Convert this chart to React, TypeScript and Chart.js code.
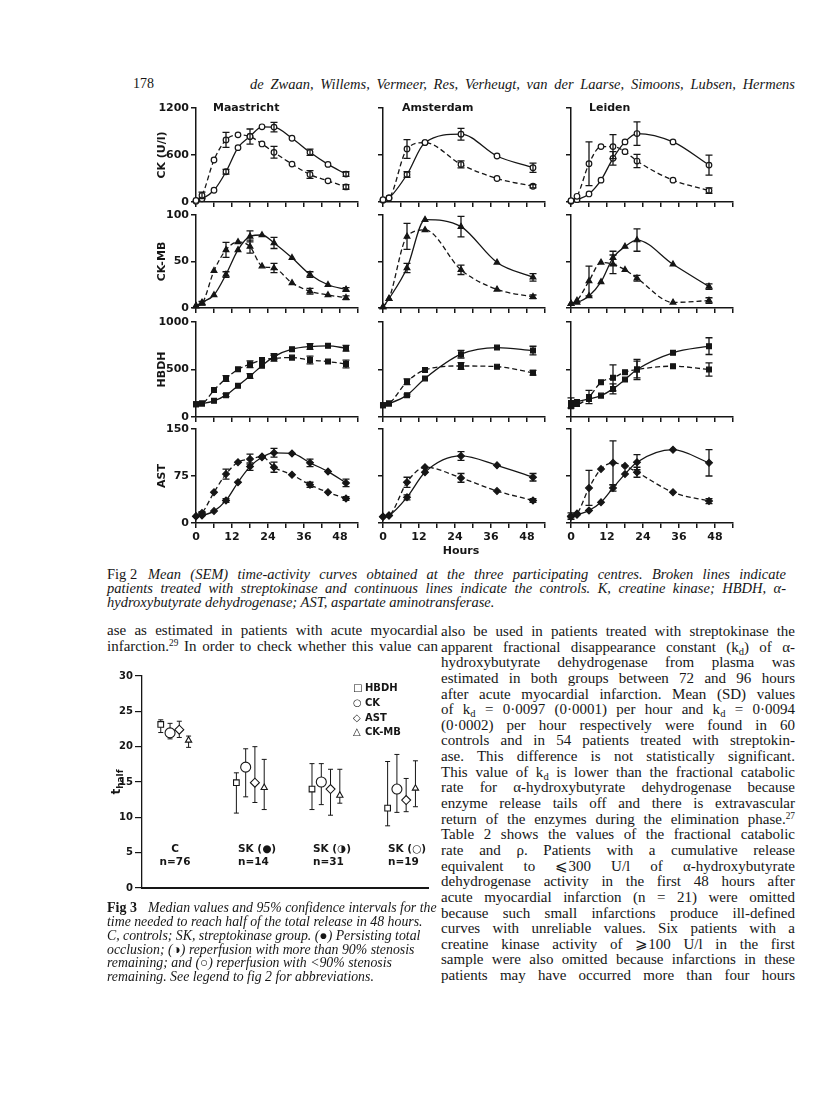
import React, { useEffect, useRef } from 'react';
import { Chart, registerables } from 'chart.js';

Chart.register(...registerables);

// ================= Fig 2 data =================
const HOURS_MAAS = [0, 2, 6, 10, 14, 18, 22, 26, 32, 38, 44, 50];
const HOURS_AMS = [0, 2, 8, 14, 26, 38, 50];
const HOURS_LEI = [0, 2, 6, 10, 14, 18, 22, 34, 46];
const X_TICK_MARKS = [0, 6, 12, 18, 24, 30, 36, 42, 48, 54];
const X_TICK_LABELS = [0, 12, 24, 36, 48];
const CK_TICKS = [0, 600, 1200];
const CKMB_TICKS = [0, 50, 100];
const HBDH_TICKS = [0, 500, 1000];
const AST_TICKS = [0, 75, 150];
const CENTRES = ['Maastricht', 'Amsterdam', 'Leiden'];
const ENZYME_TITLES = ['CK (U/l)', 'CK-MB', 'HBDH', 'AST'];

// Maastricht (SK = streptokinase, dashed; CTL = controls, solid)
const MAAS_CK_SK = [20, 85, 536, 793, 857, 836, 741, 634, 484, 351, 270, 193];
const MAAS_CK_SK_ERR = [0, 40, 0, 95, 0, 0, 0, 75, 0, 50, 0, 30];
const MAAS_CK_CTL = [10, 40, 150, 386, 694, 836, 960, 956, 814, 634, 480, 356];
const MAAS_CK_CTL_ERR = [0, 0, 0, 30, 0, 96, 0, 60, 0, 40, 0, 30];
const MAAS_CKMB_SK = [2.5, 5, 40, 62.5, 71, 66, 45, 43, 27, 18, 14, 11];
const MAAS_CKMB_SK_ERR = [0, 2, 0, 8, 0, 7, 0, 5, 0, 3, 0, 2];
const MAAS_CKMB_CTL = [2, 6, 14, 36, 62.5, 77, 78.5, 70, 54, 36, 25, 20];
const MAAS_CKMB_CTL_ERR = [0, 0, 0, 3, 0, 6, 0, 6, 0, 3, 0, 2];
const MAAS_HBDH_SK = [134, 141, 283, 406, 502, 555, 600, 618, 625, 600, 583, 558];
const MAAS_HBDH_SK_ERR = [0, 0, 0, 30, 0, 35, 0, 30, 0, 40, 0, 40];
const MAAS_HBDH_CTL = [134, 141, 170, 230, 329, 431, 540, 636, 714, 742, 749, 724];
const MAAS_HBDH_CTL_ERR = [0, 0, 0, 15, 0, 25, 0, 30, 0, 30, 0, 30];
const MAAS_AST_SK = [10.6, 16, 49, 78, 97, 102, 106, 89, 77, 61, 49, 39];
const MAAS_AST_SK_ERR = [0, 2, 0, 8, 0, 8, 0, 8, 0, 4, 0, 3];
const MAAS_AST_CTL = [10.6, 12, 19, 36, 65, 90, 105, 112, 111, 96, 82, 64];
const MAAS_AST_CTL_ERR = [0, 0, 0, 3, 0, 6, 0, 7, 0, 6, 0, 6];

// Amsterdam
const AMS_CK_SK = [30, 51, 677, 759, 480, 300, 201];
const AMS_CK_SK_ERR = [0, 0, 120, 0, 45, 0, 20];
const AMS_CK_CTL = [21, 51, 351, 759, 866, 587, 437];
const AMS_CK_CTL_ERR = [0, 0, 35, 0, 75, 0, 60];
const AMS_CKMB_SK = [1, 10, 77, 84, 41, 20, 12];
const AMS_CKMB_SK_ERR = [0, 0, 14, 0, 5, 0, 2];
const AMS_CKMB_CTL = [1, 10, 43, 95, 87.5, 49, 33];
const AMS_CKMB_CTL_ERR = [0, 0, 5, 0, 11, 0, 4];
const AMS_HBDH_SK = [124, 141, 371, 495, 537, 530, 466];
const AMS_HBDH_SK_ERR = [0, 0, 30, 0, 35, 0, 25];
const AMS_HBDH_CTL = [124, 141, 230, 406, 661, 731, 700];
const AMS_HBDH_CTL_ERR = [0, 0, 10, 0, 40, 0, 45];
const AMS_AST_SK = [10, 12, 65, 89, 72, 51, 36];
const AMS_AST_SK_ERR = [0, 0, 8, 0, 7, 0, 3];
const AMS_AST_CTL = [10, 12, 41, 81, 107, 92, 73];
const AMS_AST_CTL_ERR = [0, 0, 4, 0, 7, 0, 6];

// Leiden
const LEI_CK_SK = [17, 73, 489, 707, 707, 643, 523, 279, 146];
const LEI_CK_SK_ERR = [0, 0, 279, 0, 154, 0, 85, 0, 34];
const LEI_CK_CTL = [9, 30, 103, 279, 557, 767, 874, 767, 471];
const LEI_CK_CTL_ERR = [0, 0, 0, 0, 85, 0, 150, 0, 128];
const LEI_CKMB_SK = [4.6, 8, 29, 49, 47, 41, 32, 6, 8];
const LEI_CKMB_SK_ERR = [0, 0, 16, 0, 10, 0, 3, 0, 3];
const LEI_CKMB_CTL = [4.6, 6, 13, 28, 54, 66, 73, 47, 23];
const LEI_CKMB_CTL_ERR = [0, 0, 0, 0, 7, 0, 12, 0, 3];
const LEI_HBDH_SK = [148, 137, 211, 366, 412, 472, 500, 535, 500];
const LEI_HBDH_SK_ERR = [53, 0, 70, 0, 137, 0, 88, 0, 70];
const LEI_HBDH_CTL = [113, 158, 190, 225, 296, 394, 500, 676, 746];
const LEI_HBDH_CTL_ERR = [0, 0, 0, 0, 53, 0, 106, 0, 88];
const LEI_AST_SK = [11, 15, 56, 86, 96, 91, 81, 49, 35];
const LEI_AST_SK_ERR = [5, 0, 28, 0, 35, 0, 8, 0, 4];
const LEI_AST_CTL = [10, 13, 20, 33, 56, 78, 97, 117, 96];
const LEI_AST_CTL_ERR = [0, 0, 0, 0, 5, 0, 12, 0, 21];

// ================= Fig 3 data =================
const FIG3_GROUPS = ['C', 'SK (●)', 'SK (◑)', 'SK (○)'];
const FIG3_N = ['n=76', 'n=14', 'n=31', 'n=19'];
const FIG3_Y_TICKS = [0, 5, 10, 15, 20, 25, 30];
const FIG3_SERIES = ['HBDH', 'CK', 'AST', 'CK-MB'];
const T_HBDH = [23.15, 14.9, 14.0, 11.3];
const T_HBDH_LO = [22.0, 10.6, 11.1, 8.8];
const T_HBDH_HI = [23.8, 16.3, 17.6, 17.9];
const T_CK = [21.95, 17.1, 15.0, 14.0];
const T_CK_LO = [21.1, 12.9, 11.8, 10.7];
const T_CK_HI = [23.3, 19.7, 17.6, 18.9];
const T_AST = [22.4, 14.9, 14.0, 12.45];
const T_AST_LO = [21.3, 12.1, 10.3, 10.8];
const T_AST_HI = [23.6, 20.0, 16.8, 15.5];
const T_CKMB = [20.9, 14.2, 13.1, 14.1];
const T_CKMB_LO = [19.9, 11.1, 12.0, 11.5];
const T_CKMB_HI = [21.5, 18.2, 16.8, 18.0];

// ================= page text =================
const PAGE_NO = '178';
const AUTHORS = 'de Zwaan, Willems, Vermeer, Res, Verheugt, van der Laarse, Simoons, Lubsen, Hermens';
const FIG2_CAPTION = [
  'Mean (SEM) time-activity curves obtained at the three participating centres. Broken lines indicate',
  'patients treated with streptokinase and continuous lines indicate the controls. K, creatine kinase; HBDH, α-',
  'hydroxybutyrate dehydrogenase; AST, aspartate aminotransferase.',
];
const LEFT_COL = [
  'ase as estimated in patients with acute myocardial',
  'infarction.<sup>29</sup> In order to check whether this value can',
];
const FIG3_CAPTION = [
  'Median values and 95% confidence intervals for the',
  'time needed to reach half of the total release in 48 hours.',
  'C, controls; SK, streptokinase group. (●) Persisting total',
  'occlusion; (◑) reperfusion with more than 90% stenosis',
  'remaining; and (○) reperfusion with &lt;90% stenosis',
  'remaining. See legend to fig 2 for abbreviations.',
];
const RIGHT_COL = [
  'also be used in patients treated with streptokinase the',
  'apparent fractional disappearance constant (k<sub>d</sub>) of α-',
  'hydroxybutyrate dehydrogenase from plasma was',
  'estimated in both groups between 72 and 96 hours',
  'after acute myocardial infarction. Mean (SD) values',
  'of k<sub>d</sub> = 0·0097 (0·0001) per hour and k<sub>d</sub> = 0·0094',
  '(0·0002) per hour respectively were found in 60',
  'controls and in 54 patients treated with streptokin-',
  'ase. This difference is not statistically significant.',
  'This value of k<sub>d</sub> is lower than the fractional catabolic',
  'rate for α-hydroxybutyrate dehydrogenase because',
  'enzyme release tails off and there is extravascular',
  'return of the enzymes during the elimination phase.<sup>27</sup>',
  'Table 2 shows the values of the fractional catabolic',
  'rate and ρ. Patients with a cumulative release',
  'equivalent to ⩽300 U/l of α-hydroxybutyrate',
  'dehydrogenase activity in the first 48 hours after',
  'acute myocardial infarction (n = 21) were omitted',
  'because such small infarctions produce ill-defined',
  'curves with unreliable values. Six patients with a',
  'creatine kinase activity of ⩾100 U/l in the first',
  'sample were also omitted because infarctions in these',
  'patients may have occurred more than four hours',
];

// ================= styling / layout constants =================
const INK = '#161616';
const SANS = '"DejaVu Sans", sans-serif';
const SERIF = '"Liberation Serif", "Times New Roman", serif';
const BODY_SIZE = 15;
const CAPTION_SIZE = 14.5;
const COL_AXIS_X = [196, 383, 571];
const ROW_TOP = [108, 215, 322, 429];
const ROW_BOTTOM = [202, 308, 417, 523];
const PLOT_W = 162;
const Y_BOX = 46;
const PAD_TOP = 10;
const PAD_RIGHT = 8;
const X_BOX = 28;
const FIG3_SERIES_OFFSET = [-0.184, -0.061, 0.061, 0.184];

const CSS = `
.t sub{font-size:0.7em;line-height:0;vertical-align:-0.28em}
.t sup{font-size:0.62em;line-height:0;vertical-align:0.5em}
`;

// ================= error bar plugin =================
function drawErrorBars(chart: any, opts: any) {
  const ctx = chart.ctx;
  const yScale = chart.scales.y;
  chart.data.datasets.forEach((ds: any, i: number) => {
    const meta = chart.getDatasetMeta(i);
    ctx.save();
    ctx.strokeStyle = opts.color || INK;
    ctx.lineWidth = opts.lineWidth || 1.2;
    ctx.setLineDash([]);
    ctx.beginPath();
    meta.data.forEach((el: any, j: number) => {
      let lo: number, hi: number;
      if (ds.errLow && ds.errHigh) {
        lo = ds.errLow[j];
        hi = ds.errHigh[j];
      } else if (ds.errors && ds.errors[j]) {
        const v = ds.data[j].y;
        lo = v - ds.errors[j];
        hi = v + ds.errors[j];
      } else return;
      const x = el.x;
      const y1 = yScale.getPixelForValue(hi);
      const y2 = yScale.getPixelForValue(lo);
      const c = opts.cap ?? 3;
      ctx.moveTo(x, y1); ctx.lineTo(x, y2);
      ctx.moveTo(x - c, y1); ctx.lineTo(x + c, y1);
      ctx.moveTo(x - c, y2); ctx.lineTo(x + c, y2);
    });
    ctx.stroke();
    ctx.restore();
  });
}

const errorBarPlugin = {
  id: 'errorBars',
  beforeDatasetsDraw(chart: any, _a: any, opts: any) {
    if (opts && opts.behind) drawErrorBars(chart, opts);
  },
  afterDatasetsDraw(chart: any, _a: any, opts: any) {
    if (!opts || !opts.behind) drawErrorBars(chart, opts || {});
  },
};

// ================= chart configs =================
type PanelSpec = {
  hours: number[];
  sk: number[];
  skErr: number[];
  ctl: number[];
  ctlErr: number[];
  yTicks: number[];
  yTitle: string;
  marker: string;
  radius: number;
  open: boolean;
  showY: boolean;
  showX: boolean;
};

function fig2Config(p: PanelSpec) {
  const font = { family: SANS, size: 11, weight: 'bold' };
  const mk = (vals: number[], errs: number[], dashed: boolean) => ({
    data: p.hours.map((h, i) => ({ x: h, y: vals[i] })),
    errors: errs,
    borderColor: INK,
    borderWidth: 1.3,
    borderDash: dashed ? [5, 3] : [],
    pointStyle: p.marker,
    pointRadius: p.radius,
    pointBackgroundColor: p.open ? '#fff' : INK,
    pointBorderColor: INK,
    pointBorderWidth: 1.2,
    cubicInterpolationMode: 'monotone',
    fill: false,
    clip: false,
  });
  const grid = { drawOnChartArea: false, drawTicks: true, tickLength: 5, color: INK, lineWidth: 1.5 };
  const border = { display: true, color: INK, width: 1.5 };
  return {
    type: 'line',
    data: { datasets: [mk(p.sk, p.skErr, true), mk(p.ctl, p.ctlErr, false)] },
    options: {
      responsive: false,
      animation: false,
      devicePixelRatio: 1,
      events: [],
      layout: { padding: { top: PAD_TOP, right: PAD_RIGHT, left: 0, bottom: 0 } },
      plugins: {
        legend: { display: false },
        tooltip: { enabled: false },
        errorBars: { cap: 3.5, lineWidth: 1.3 },
      },
      scales: {
        x: {
          type: 'linear',
          min: X_TICK_MARKS[0],
          max: X_TICK_MARKS[X_TICK_MARKS.length - 1],
          afterBuildTicks: (s: any) => { s.ticks = X_TICK_MARKS.map((v) => ({ value: v })); },
          ticks: {
            autoSkip: false,
            maxRotation: 0,
            font,
            color: INK,
            padding: 3,
            callback: (v: any) => (p.showX && X_TICK_LABELS.includes(Number(v)) ? String(v) : ''),
          },
          grid,
          border,
          afterFit: (s: any) => { s.height = X_BOX; },
        },
        y: {
          type: 'linear',
          min: p.yTicks[0],
          max: p.yTicks[p.yTicks.length - 1],
          afterBuildTicks: (s: any) => { s.ticks = p.yTicks.map((v) => ({ value: v })); },
          ticks: { display: p.showY, font, color: INK, padding: 2, callback: (v: any) => String(v) },
          grid,
          border,
          title: { display: p.showY, text: p.yTitle, font, color: INK, padding: { top: 6, bottom: 0 } },
          afterFit: (s: any) => { s.width = Y_BOX; },
        },
      },
    },
    plugins: [errorBarPlugin],
  };
}

function fig3Config() {
  const meds = [T_HBDH, T_CK, T_AST, T_CKMB];
  const los = [T_HBDH_LO, T_CK_LO, T_AST_LO, T_CKMB_LO];
  const his = [T_HBDH_HI, T_CK_HI, T_AST_HI, T_CKMB_HI];
  const styles = ['rect', 'circle', 'rectRot', 'triangle'];
  const radii = [4, 5, 4.5, 3.6];
  const tickFont = { family: SANS, size: 10, weight: 'bold' };
  return {
    type: 'scatter',
    data: {
      datasets: FIG3_SERIES.map((name, k) => ({
        label: name,
        data: meds[k].map((v, g) => ({ x: g + 1 + FIG3_SERIES_OFFSET[k], y: v })),
        errLow: los[k],
        errHigh: his[k],
        showLine: false,
        pointStyle: styles[k],
        pointRadius: radii[k],
        pointBackgroundColor: '#fff',
        pointBorderColor: INK,
        pointBorderWidth: 1.1,
        clip: false,
      })),
    },
    options: {
      responsive: false,
      animation: false,
      devicePixelRatio: 1,
      events: [],
      layout: { padding: { top: 11, right: 12, left: 0, bottom: 0 } },
      plugins: {
        legend: { display: false },
        tooltip: { enabled: false },
        errorBars: { behind: true, cap: 2.5, lineWidth: 1 },
      },
      scales: {
        x: {
          type: 'linear',
          min: 0.568,
          max: 4.35,
          ticks: { display: false },
          grid: { display: false },
          border: { display: true, color: INK, width: 2 },
          afterFit: (s: any) => { s.height = 12; },
        },
        y: {
          type: 'linear',
          min: FIG3_Y_TICKS[0],
          max: FIG3_Y_TICKS[FIG3_Y_TICKS.length - 1],
          afterBuildTicks: (s: any) => { s.ticks = FIG3_Y_TICKS.map((v) => ({ value: v })); },
          ticks: { font: tickFont, color: INK, padding: 2, callback: (v: any) => String(v) },
          grid: { drawOnChartArea: false, drawTicks: true, tickLength: 7, color: INK, lineWidth: 1.2 },
          border: { display: true, color: INK, width: 1.3 },
          afterFit: (s: any) => { s.width = 42; },
        },
      },
    },
    plugins: [errorBarPlugin],
  };
}

// ================= components =================
function ChartBox(props: { left: number; top: number; width: number; height: number; make: () => any }) {
  const { left, top, width, height, make } = props;
  const ref = useRef<HTMLCanvasElement | null>(null);
  useEffect(() => {
    if (!ref.current) return;
    const chart = new Chart(ref.current, make() as any);
    return () => chart.destroy();
  }, []);
  return (
    <canvas
      ref={ref}
      width={width}
      height={height}
      style={{ position: 'absolute', left, top, width, height, display: 'block' }}
    />
  );
}

type TxtProps = {
  x: number;
  top: number;
  w?: number;
  size: number;
  lh: number;
  family?: string;
  italic?: boolean;
  bold?: boolean;
  justify?: boolean;
  center?: boolean;
  html: string;
};

function Txt(p: TxtProps) {
  const style: any = {
    position: 'absolute',
    left: p.center ? p.x - 150 : p.x,
    top: p.top,
    fontFamily: p.family || SERIF,
    fontSize: p.size,
    lineHeight: p.lh + 'px',
    fontStyle: p.italic ? 'italic' : 'normal',
    fontWeight: p.bold ? 'bold' : 'normal',
    whiteSpace: 'nowrap',
    color: INK,
  };
  if (p.center) {
    style.width = 300;
    style.textAlign = 'center';
  } else if (p.w) {
    style.width = p.w;
    if (p.justify) {
      style.textAlign = 'justify';
      style.textAlignLast = 'justify';
    }
  }
  return <div className="t" style={style} dangerouslySetInnerHTML={{ __html: p.html }} />;
}

export default function App() {
  const rows = [
    { ticks: CK_TICKS, marker: 'circle', radius: 2.8, open: true,
      data: [
        [HOURS_MAAS, MAAS_CK_SK, MAAS_CK_SK_ERR, MAAS_CK_CTL, MAAS_CK_CTL_ERR],
        [HOURS_AMS, AMS_CK_SK, AMS_CK_SK_ERR, AMS_CK_CTL, AMS_CK_CTL_ERR],
        [HOURS_LEI, LEI_CK_SK, LEI_CK_SK_ERR, LEI_CK_CTL, LEI_CK_CTL_ERR],
      ] },
    { ticks: CKMB_TICKS, marker: 'triangle', radius: 3.3, open: false,
      data: [
        [HOURS_MAAS, MAAS_CKMB_SK, MAAS_CKMB_SK_ERR, MAAS_CKMB_CTL, MAAS_CKMB_CTL_ERR],
        [HOURS_AMS, AMS_CKMB_SK, AMS_CKMB_SK_ERR, AMS_CKMB_CTL, AMS_CKMB_CTL_ERR],
        [HOURS_LEI, LEI_CKMB_SK, LEI_CKMB_SK_ERR, LEI_CKMB_CTL, LEI_CKMB_CTL_ERR],
      ] },
    { ticks: HBDH_TICKS, marker: 'rect', radius: 3.4, open: false,
      data: [
        [HOURS_MAAS, MAAS_HBDH_SK, MAAS_HBDH_SK_ERR, MAAS_HBDH_CTL, MAAS_HBDH_CTL_ERR],
        [HOURS_AMS, AMS_HBDH_SK, AMS_HBDH_SK_ERR, AMS_HBDH_CTL, AMS_HBDH_CTL_ERR],
        [HOURS_LEI, LEI_HBDH_SK, LEI_HBDH_SK_ERR, LEI_HBDH_CTL, LEI_HBDH_CTL_ERR],
      ] },
    { ticks: AST_TICKS, marker: 'rectRot', radius: 3.4, open: false,
      data: [
        [HOURS_MAAS, MAAS_AST_SK, MAAS_AST_SK_ERR, MAAS_AST_CTL, MAAS_AST_CTL_ERR],
        [HOURS_AMS, AMS_AST_SK, AMS_AST_SK_ERR, AMS_AST_CTL, AMS_AST_CTL_ERR],
        [HOURS_LEI, LEI_AST_SK, LEI_AST_SK_ERR, LEI_AST_CTL, LEI_AST_CTL_ERR],
      ] },
  ];

  const panels: any[] = [];
  rows.forEach((row, r) => {
    row.data.forEach((d, c) => {
      const spec: PanelSpec = {
        hours: d[0], sk: d[1], skErr: d[2], ctl: d[3], ctlErr: d[4],
        yTicks: row.ticks, yTitle: ENZYME_TITLES[r], marker: row.marker, radius: row.radius,
        open: row.open, showY: c === 0, showX: r === rows.length - 1,
      };
      const h = ROW_BOTTOM[r] - ROW_TOP[r];
      panels.push(
        <ChartBox
          key={`p${r}-${c}`}
          left={COL_AXIS_X[c] - Y_BOX}
          top={ROW_TOP[r] - PAD_TOP}
          width={Y_BOX + PLOT_W + PAD_RIGHT}
          height={h + PAD_TOP + X_BOX}
          make={() => fig2Config(spec)}
        />
      );
    });
  });

  const centreX = [213, 402, 589];
  const rightY0 = 633;
  const rightStep = 15.64;
  const legendY = [688, 703, 718, 732];
  const legendSym = ['□', '○', '◇', '△'];
  const groupLabelX = [175, 238, 313, 388];

  return (
    <div style={{ position: 'absolute', left: 0, top: 0, width: 816, height: 1093, background: '#fff', overflow: 'hidden' }}>
      <style>{CSS}</style>

      {/* running head */}
      <Txt x={133} top={76} size={14} lh={16} html={PAGE_NO} />
      <Txt x={250} top={76} w={545} size={14.5} lh={16} italic justify html={AUTHORS} />

      {/* Fig 2 */}
      {panels}
      {CENTRES.map((name, i) => (
        <Txt key={name} x={centreX[i]} top={101} size={11} lh={14} family={SANS} bold html={name} />
      ))}
      <Txt x={461} center top={544} size={11} lh={14} family={SANS} bold html="Hours" />

      <Txt x={107} top={566} size={CAPTION_SIZE} lh={16} html="Fig 2" />
      <Txt x={148} top={566} w={638} size={CAPTION_SIZE} lh={16} italic justify html={FIG2_CAPTION[0]} />
      <Txt x={107} top={580} w={679} size={CAPTION_SIZE} lh={16} italic justify html={FIG2_CAPTION[1]} />
      <Txt x={107} top={594} size={CAPTION_SIZE} lh={16} italic html={FIG2_CAPTION[2]} />

      {/* left column text */}
      {LEFT_COL.map((l, i) => (
        <Txt key={'l' + i} x={107} top={622 + i * 15.5} w={331} size={BODY_SIZE} lh={16} justify html={l} />
      ))}

      {/* right column text */}
      {RIGHT_COL.map((l, i) => (
        <Txt key={'r' + i} x={441} top={rightY0 - 10 + i * rightStep} w={354} size={BODY_SIZE} lh={16} justify html={l} />
      ))}

      {/* Fig 3 */}
      <ChartBox left={100} top={665} width={340} height={235} make={fig3Config} />
      <div
        style={{
          position: 'absolute', left: 116, top: 782, transform: 'translate(-50%, -50%) rotate(-90deg)',
          fontFamily: SANS, fontSize: 12, fontWeight: 'bold', lineHeight: '14px', whiteSpace: 'nowrap', color: INK,
        }}
      >
        t<sub style={{ fontSize: 9, lineHeight: 0, verticalAlign: '-3px' }}>half</sub>
      </div>
      {FIG3_SERIES.map((name, k) => (
        <React.Fragment key={name}>
          <Txt x={353} top={legendY[k] - 6} size={10} lh={12} family={SANS} html={legendSym[k]} />
          <Txt x={365} top={legendY[k] - 6} size={10} lh={12} family={SANS} bold html={name} />
        </React.Fragment>
      ))}
      {FIG3_GROUPS.map((g, i) =>
        i === 0 ? (
          <React.Fragment key={g}>
            <Txt x={groupLabelX[i]} center top={842} size={10.5} lh={12} family={SANS} bold html={g} />
            <Txt x={groupLabelX[i]} center top={855} size={10.5} lh={12} family={SANS} bold html={FIG3_N[i]} />
          </React.Fragment>
        ) : (
          <React.Fragment key={g}>
            <Txt x={groupLabelX[i]} top={842} size={10.5} lh={12} family={SANS} bold html={g} />
            <Txt x={groupLabelX[i]} top={855} size={10.5} lh={12} family={SANS} bold html={FIG3_N[i]} />
          </React.Fragment>
        )
      )}

      <Txt x={107} top={900} size={14} lh={16} bold html="Fig 3" />
      <Txt x={148} top={900} size={13.8} lh={16} italic html={FIG3_CAPTION[0]} />
      {FIG3_CAPTION.slice(1).map((l, i) => (
        <Txt key={'c' + i} x={107} top={914 + i * 13.8} size={13.8} lh={16} italic html={l} />
      ))}
    </div>
  );
}
